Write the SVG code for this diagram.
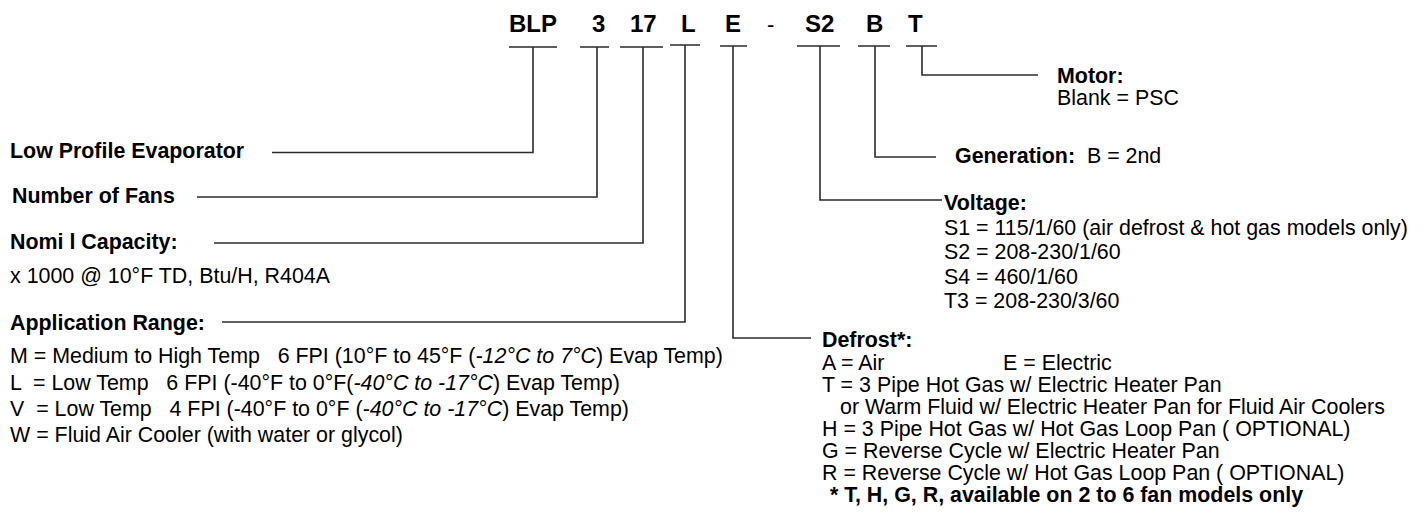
<svg xmlns="http://www.w3.org/2000/svg" width="1424" height="519" viewBox="0 0 1424 519">
<style>
text{font-family:"Liberation Sans",Arial,sans-serif;font-size:21.4px;fill:#000}
.b{font-weight:bold}
.h{font-weight:bold;font-size:24px}
.i{font-style:italic}
.c{fill:none;stroke:#2b2b2b;stroke-width:1.6}
</style>
<rect width="1424" height="519" fill="#fff"/>
<g id="header">
<text class="h" x="509" y="32">BLP</text>
<text class="h" x="592" y="32">3</text>
<text class="h" x="630" y="32">17</text>
<text class="h" x="681" y="32">L</text>
<text class="h" x="725" y="32">E</text>
<text x="767" y="32" style="font-size:22px">-</text>
<text class="h" x="805" y="32">S2</text>
<text class="h" x="866" y="32">B</text>
<text class="h" x="908" y="32">T</text>
</g>
<g id="connectors">
<path class="c" d="M509,47H557M533,47V152.5H272"/>
<path class="c" d="M580,47H609M597,47V197H197"/>
<path class="c" d="M620,47H663M643,47V243H214"/>
<path class="c" d="M670,45H700M685,45V322H222"/>
<path class="c" d="M720,46H747M733,46V338H811"/>
<path class="c" d="M797,46H840M820,46V200H942"/>
<path class="c" d="M858,46H890M875,46V157H936"/>
<path class="c" d="M906,46H937M922,46V75H1038"/>
</g>
<g id="node-type">
<text class="b" x="10" y="158">Low Profile Evaporator</text>
</g>
<g id="node-fans">
<text class="b" x="12" y="203">Number of Fans</text>
</g>
<g id="node-capacity">
<text class="b" x="10" y="249">Nomi l Capacity:</text>
<text x="10" y="283">x 1000 @ 10°F TD, Btu/H, R404A</text>
</g>
<g id="node-application">
<text class="b" x="10" y="330">Application Range:</text>
<text x="10" y="363" xml:space="preserve">M = Medium to High Temp   6 FPI (10°F to 45°F (<tspan class="i">-12°C to 7°C</tspan>) Evap Temp)</text>
<text x="10" y="390" xml:space="preserve">L  = Low Temp   6 FPI (-40°F to 0°F(<tspan class="i">-40°C to -17°C</tspan>) Evap Temp)</text>
<text x="10" y="416" xml:space="preserve">V  = Low Temp   4 FPI (-40°F to 0°F (<tspan class="i">-40°C to -17°C</tspan>) Evap Temp)</text>
<text x="10" y="442">W = Fluid Air Cooler (with water or glycol)</text>
</g>
<g id="node-motor">
<text class="b" x="1057" y="83">Motor:</text>
<text x="1057" y="105">Blank = PSC</text>
</g>
<g id="node-generation">
<text x="955" y="163" xml:space="preserve"><tspan class="b">Generation:</tspan>  B = 2nd</text>
</g>
<g id="node-voltage">
<text class="b" x="944" y="210">Voltage:</text>
<text x="944" y="235">S1 = 115/1/60 (air defrost &amp; hot gas models only)</text>
<text x="944" y="259">S2 = 208-230/1/60</text>
<text x="944" y="284">S4 = 460/1/60</text>
<text x="944" y="308">T3 = 208-230/3/60</text>
</g>
<g id="node-defrost">
<text class="b" x="822" y="347">Defrost*:</text>
<text x="822" y="370">A = Air</text>
<text x="1003" y="370">E = Electric</text>
<text x="822" y="392">T = 3 Pipe Hot Gas w/ Electric Heater Pan</text>
<text x="840" y="414">or Warm Fluid w/ Electric Heater Pan for Fluid Air Coolers</text>
<text x="822" y="436">H = 3 Pipe Hot Gas w/ Hot Gas Loop Pan ( OPTIONAL)</text>
<text x="822" y="458">G = Reverse Cycle w/ Electric Heater Pan</text>
<text x="822" y="480">R = Reverse Cycle w/ Hot Gas Loop Pan ( OPTIONAL)</text>
<text class="b" x="830" y="502">* T, H, G, R, available on 2 to 6 fan models only</text>
</g>
</svg>
